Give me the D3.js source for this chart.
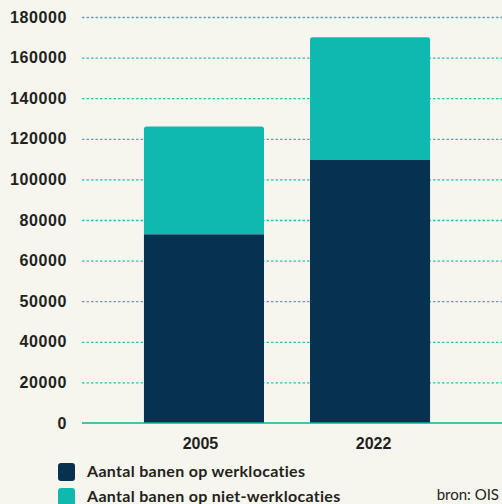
<!DOCTYPE html>
<html>
<head>
<meta charset="utf-8">
<script src="https://cdn.jsdelivr.net/npm/d3@7"></script>
<style>
  body { margin: 0; background: #f7f6ee; }
  svg { display: block; font-family: Lato, "Noto Sans", sans-serif; }
</style>
</head>
<body>
<div id="chart"></div>
<script>
// data
const years = ["2005", "2022"];
const werkValues = [73000, 109500];
const nietWerkValues = [53000, 60500];
const seriesNames = ["Aantal banen op werklocaties", "Aantal banen op niet-werklocaties"];
const tickValues = [0, 20000, 40000, 50000, 60000, 80000, 100000, 120000, 140000, 160000, 180000];
const colors = ["#07324f", "#10b9b0"];

// set the dimensions and margins of the graph
const margin = { top: 17, right: 0, bottom: 81, left: 82 },
    width = 502 - margin.left - margin.right,
    height = 504 - margin.top - margin.bottom;

const svg = d3.select("#chart")
    .append("svg")
    .attr("width", 502)
    .attr("height", 504)
    .append("g")
    .attr("transform", `translate(${margin.left}, ${margin.top})`);

// the ticks are evenly spaced even though the labels are not,
// so map them with a piecewise linear scale
const yPoint = d3.scalePoint()
    .domain(tickValues.map(String))
    .range([height, 0]);
const y = d3.scaleLinear()
    .domain(tickValues)
    .range(tickValues.map(v => yPoint(String(v))));

const x = d3.scaleBand()
    .domain(years)
    .range([0, 410])
    .paddingInner(0.277)
    .paddingOuter(0.373);

// gridlines
svg.append("g")
    .call(d3.axisLeft(y).tickValues(tickValues.slice(1)).tickSize(-width).tickFormat(""))
    .call(g => g.select(".domain").remove())
    .selectAll("line")
    .attr("stroke", "#2bbfb3")
    .attr("stroke-width", 1.3)
    .attr("stroke-dasharray", "2.5,2");

// y labels
svg.append("g")
    .call(d3.axisLeft(y).tickValues(tickValues).tickSize(0).tickPadding(15).tickFormat(d => d))
    .call(g => g.select(".domain").remove())
    .selectAll("text")
    .attr("fill", "#231f20")
    .style("font-size", "16px")
    .style("font-weight", "bold")
    .style("letter-spacing", "0.6px");

// stacked bars
const rows = years.map((yr, i) => ({ year: yr, werk: werkValues[i], niet: nietWerkValues[i] }));
const stacked = d3.stack().keys(["werk", "niet"])(rows);

function barPath(x0, w, yTop, yBot, r) {
    return `M${x0},${yBot}V${yTop + r}Q${x0},${yTop} ${x0 + r},${yTop}` +
        `H${x0 + w - r}Q${x0 + w},${yTop} ${x0 + w},${yTop + r}V${yBot}Z`;
}

svg.selectAll("g.layer")
    .data(stacked)
    .enter()
    .append("g")
    .attr("class", "layer")
    .attr("fill", (d, i) => colors[i])
    .selectAll("path")
    .data((d, i) => d.map(p => ({ p, top: i === stacked.length - 1 })))
    .enter()
    .append("path")
    .attr("d", d => barPath(x(d.p.data.year), x.bandwidth(), y(d.p[1]), y(d.p[0]), d.top ? 2.5 : 0));

// x axis line
svg.append("line")
    .attr("x1", 0)
    .attr("x2", width)
    .attr("y1", y(0))
    .attr("y2", y(0))
    .attr("stroke", "#1aa89f")
    .attr("stroke-width", 1.5);

// x labels (sit a little apart from the bar centres in the original)
const labelShift = [-3.5, 3.5];
svg.append("g")
    .attr("transform", `translate(0, ${height})`)
    .call(d3.axisBottom(x).tickSize(0).tickPadding(15))
    .call(g => g.select(".domain").remove())
    .selectAll("text")
    .attr("dx", (d, i) => labelShift[i])
    .attr("fill", "#231f20")
    .style("font-size", "16px")
    .style("font-weight", "bold");

// legend
const legend = svg.append("g")
    .attr("transform", `translate(${58 - margin.left}, ${463 - margin.top})`);
const item = legend.selectAll("g")
    .data(seriesNames)
    .enter()
    .append("g")
    .attr("transform", (d, i) => `translate(0, ${i * 25})`);
item.append("rect")
    .attr("width", 17)
    .attr("height", 18)
    .attr("rx", 3)
    .attr("fill", (d, i) => colors[i]);
item.append("text")
    .attr("x", 29)
    .attr("y", 14)
    .attr("fill", "#231f20")
    .style("font-size", "16px")
    .style("font-weight", "bold")
    .style("letter-spacing", "0.3px")
    .text(d => d);

// source
svg.append("text")
    .attr("x", 499 - margin.left)
    .attr("y", 500 - margin.top)
    .attr("text-anchor", "end")
    .attr("fill", "#231f20")
    .style("font-size", "15px")
    .text("bron: OIS");
</script>
</body>
</html>
